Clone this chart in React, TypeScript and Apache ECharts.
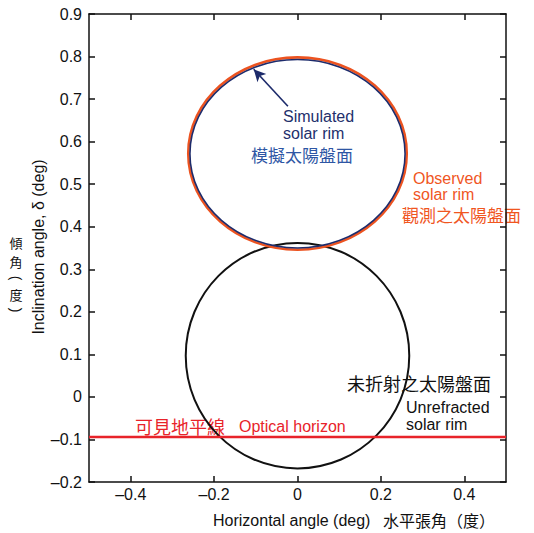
import React, { useEffect, useRef } from "react";
import * as echarts from "echarts";

// ---- data (degrees) ----
const xTickValues = [-0.4, -0.2, 0, 0.2, 0.4];
const xRange = [-0.5, 0.5];
const yRange = [-0.2, 0.9];
// [centerX, centerY, radiusX, radiusY]
const unrefractedRim = [0, 0.097, 0.268, 0.265];
const observedRim = [0, 0.572, 0.262, 0.226];
const simulatedRim = [0, 0.5715, 0.258, 0.2215];
const horizonY = -0.094;
const horizonLine = [
  [-0.5, horizonY],
  [0.5, horizonY],
];
const arrowFrom = [-0.023, 0.683];
const arrowTo = [-0.105, 0.77];

const LATIN = "Liberation Sans, Arial, Helvetica, sans-serif";
const CJK = "Noto Sans CJK TC, Noto Sans CJK SC, sans-serif";

const fmt = (v: number) => {
  if (Math.abs(v) < 1e-9) return "0";
  const s = Math.abs(v).toFixed(1);
  return v < 0 ? "\u2013" + s : s;
};

function ellipseSeries(params: number[], color: string, width: number, z: number) {
  return {
    type: "custom",
    xAxisIndex: 0,
    yAxisIndex: 0,
    z,
    silent: true,
    data: [params],
    encode: { x: 0, y: 1 },
    renderItem: (p: any, api: any) => {
      const c = api.coord([api.value(0), api.value(1)]);
      const s = api.size([api.value(2), api.value(3)]);
      return {
        type: "ellipse",
        shape: { cx: c[0], cy: c[1], rx: s[0], ry: s[1] },
        style: { fill: "none", stroke: color, lineWidth: width },
      };
    },
  };
}

function txt(text: string, x: number, y: number, color: string, family: string, size: number, align = "left", extra: any = {}) {
  return {
    type: "text",
    x,
    y,
    silent: true,
    ...extra,
    style: {
      text,
      fill: color,
      fontSize: size,
      fontFamily: family,
      align,
      verticalAlign: "middle",
    },
  };
}

export default function App() {
  const ref = useRef<HTMLDivElement>(null);
  useEffect(() => {
    if (!ref.current) return;
    const chart = echarts.init(ref.current, undefined, { renderer: "svg" });
    const axisLine = { show: true, onZero: false, lineStyle: { color: "#111", width: 1.5 } };
    const tick = { show: true, inside: true, length: 6, lineStyle: { color: "#111", width: 1.5 } };
    const labelStyle = { color: "#111", fontSize: 16, fontFamily: LATIN };
    const option: any = {
      animation: false,
      backgroundColor: "#fff",
      grid: { left: 89, right: 28, top: 14, bottom: 51, containLabel: false },
      xAxis: [
        {
          type: "value",
          min: xRange[0],
          max: xRange[1],
          interval: 0.1,
          axisLine,
          axisTick: { ...tick, customValues: xTickValues },
          axisLabel: { ...labelStyle, margin: 4, customValues: xTickValues, formatter: fmt },
          splitLine: { show: false },
        },
        {
          type: "value",
          position: "top",
          min: xRange[0],
          max: xRange[1],
          interval: 0.1,
          axisLine,
          axisTick: { ...tick, customValues: xTickValues },
          axisLabel: { show: false },
          splitLine: { show: false },
        },
      ],
      yAxis: [
        {
          type: "value",
          min: yRange[0],
          max: yRange[1],
          interval: 0.1,
          axisLine,
          axisTick: tick,
          axisLabel: { ...labelStyle, margin: 7, formatter: fmt },
          splitLine: { show: false },
        },
        {
          type: "value",
          position: "right",
          min: yRange[0],
          max: yRange[1],
          interval: 0.1,
          axisLine,
          axisTick: tick,
          axisLabel: { show: false },
          splitLine: { show: false },
        },
      ],
      series: [
        ellipseSeries(unrefractedRim, "#111111", 2, 2),
        ellipseSeries(observedRim, "#ec5320", 2.6, 3),
        ellipseSeries(simulatedRim, "#1d2b6b", 1.6, 4),
        {
          type: "line",
          xAxisIndex: 0,
          yAxisIndex: 0,
          data: horizonLine,
          symbol: "none",
          z: 5,
          lineStyle: { color: "#e8232a", width: 2.5 },
          markLine: {
            silent: true,
            symbol: ["none", "arrow"],
            symbolSize: [9, 12],
            label: { show: false },
            lineStyle: { color: "#1d2b6b", width: 1.6, type: "solid" },
            data: [[{ coord: arrowFrom }, { coord: arrowTo }]],
          },
        },
      ],
      graphic: [
        txt("Simulated", 283, 116, "#232f6c", LATIN, 16),
        txt("solar rim", 283, 133, "#232f6c", LATIN, 16),
        txt("模擬太陽盤面", 302, 154, "#2e56a4", CJK, 17, "center"),
        txt("Observed", 413, 178, "#f0561f", LATIN, 16),
        txt("solar rim", 413, 194, "#f0561f", LATIN, 16),
        txt("觀測之太陽盤面", 402, 214, "#f0561f", CJK, 17),
        txt("未折射之太陽盤面", 347, 383, "#111", CJK, 18),
        txt("Unrefracted", 406, 407, "#111", LATIN, 16),
        txt("solar rim", 406, 424, "#111", LATIN, 16),
        txt("可見地平線", 135, 426, "#e8232a", CJK, 18),
        txt("Optical horizon", 239, 426, "#e8232a", LATIN, 16),
        txt("Horizontal angle (deg)", 213, 520, "#111", LATIN, 16),
        txt("水平張角（度）", 383, 520, "#111", CJK, 16),
        txt("Inclination angle, δ (deg)", 38, 247, "#111", LATIN, 16, "center", { rotation: Math.PI / 2 }),
        txt("傾", 16, 242, "#111", CJK, 13, "center"),
        txt("角", 16, 261, "#111", CJK, 13, "center"),
        txt("(", 16, 278, "#111", LATIN, 14, "center", { rotation: -Math.PI / 2 }),
        txt("度", 16, 294, "#111", CJK, 13, "center"),
        txt(")", 16, 310, "#111", LATIN, 14, "center", { rotation: -Math.PI / 2 }),
      ],
    };
    chart.setOption(option);
    return () => chart.dispose();
  }, []);
  return (
    <div
      ref={ref}
      style={{ position: "absolute", left: 0, top: 0, width: 534, height: 533 }}
    />
  );
}
